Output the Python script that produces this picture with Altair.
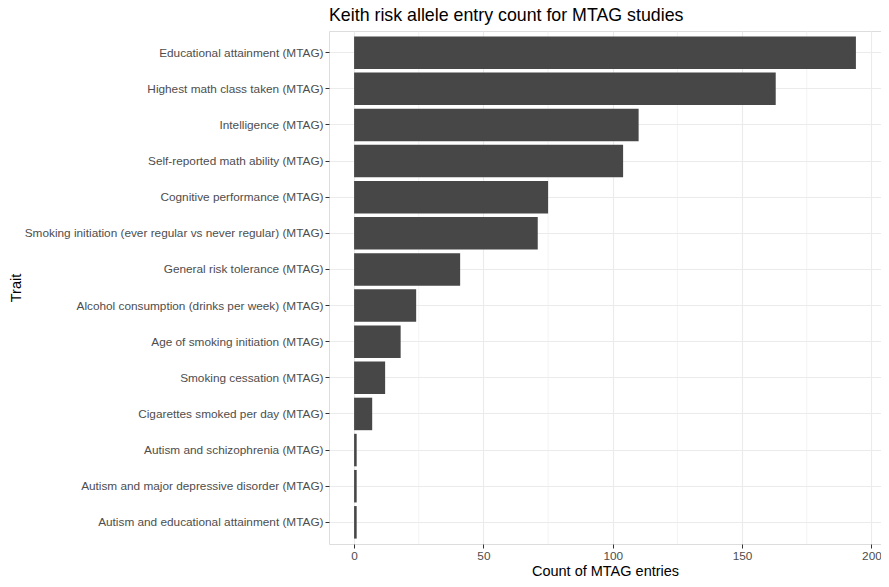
import altair as alt
import pandas as pd

traits = [
    "Educational attainment (MTAG)",
    "Highest math class taken (MTAG)",
    "Intelligence (MTAG)",
    "Self-reported math ability (MTAG)",
    "Cognitive performance (MTAG)",
    "Smoking initiation (ever regular vs never regular) (MTAG)",
    "General risk tolerance (MTAG)",
    "Alcohol consumption (drinks per week) (MTAG)",
    "Age of smoking initiation (MTAG)",
    "Smoking cessation (MTAG)",
    "Cigarettes smoked per day (MTAG)",
    "Autism and schizophrenia (MTAG)",
    "Autism and major depressive disorder (MTAG)",
    "Autism and educational attainment (MTAG)",
]
counts = [194, 163, 110, 104, 75, 71, 41, 24, 18, 12, 7, 1, 1, 1]
major_ticks = [0, 50, 100, 150, 200]
minor_ticks = [25, 75, 125, 175]

df = pd.DataFrame({"Trait": traits, "Count": counts})
minor_df = pd.DataFrame({"v": minor_ticks})

FONT = "Liberation Sans"
W, H = 552, 513
xscale = alt.Scale(domain=[-9.7, 203.7], nice=False, zero=False)

minor = alt.Chart(minor_df).mark_rule(color="#EBEBEB", strokeWidth=0.6).encode(
    x=alt.X("v:Q", scale=xscale)
)

bars = alt.Chart(df).mark_bar(color="#474747").encode(
    x=alt.X(
        "Count:Q",
        scale=xscale,
        title="Count of MTAG entries",
        axis=alt.Axis(
            values=major_ticks,
            grid=True,
            gridColor="#EBEBEB",
            gridWidth=1.1,
            domain=False,
            tickColor="#333333",
            tickSize=4,
            labelColor="#4D4D4D",
            labelFontSize=11.8,
            labelFont=FONT,
            labelPadding=2,
            titleFont=FONT,
            titleFontSize=14.5,
            titleFontWeight="normal",
            titleColor="#000000",
            titlePadding=3,
        ),
    ),
    y=alt.Y(
        "Trait:N",
        sort=traits,
        scale=alt.Scale(paddingInner=0.1, paddingOuter=0.15),
        title="Trait",
        axis=alt.Axis(
            grid=True,
            gridColor="#EBEBEB",
            gridWidth=1.1,
            domain=False,
            tickColor="#333333",
            tickSize=4,
            labelColor="#4D4D4D",
            labelFontSize=11.8,
            labelFont=FONT,
            labelPadding=2,
            labelLimit=400,
            titleFont=FONT,
            titleFontSize=14.5,
            titleFontWeight="normal",
            titleColor="#000000",
            titleX=-313,
            titleY=H / 2,
            titleAngle=270,
            titleAlign="center",
            titleBaseline="middle",
        ),
    ),
)

chart = (
    alt.layer(minor, bars)
    .properties(
        width=W,
        height=H,
        title=alt.TitleParams(
            "Keith risk allele entry count for MTAG studies",
            anchor="start",
            frame="group",
            font=FONT,
            fontSize=17.8,
            fontWeight="normal",
            color="#000000",
            offset=6,
        ),
        autosize=alt.AutoSizeParams(type="none"),
        padding={"left": 321, "top": 23, "right": 0, "bottom": 35},
    )
    .configure_view(stroke="#333333", strokeWidth=1.1)
    .configure(background="#FFFFFF")
)

chart.save("out.html", embed_options={"renderer": "svg", "actions": False})
